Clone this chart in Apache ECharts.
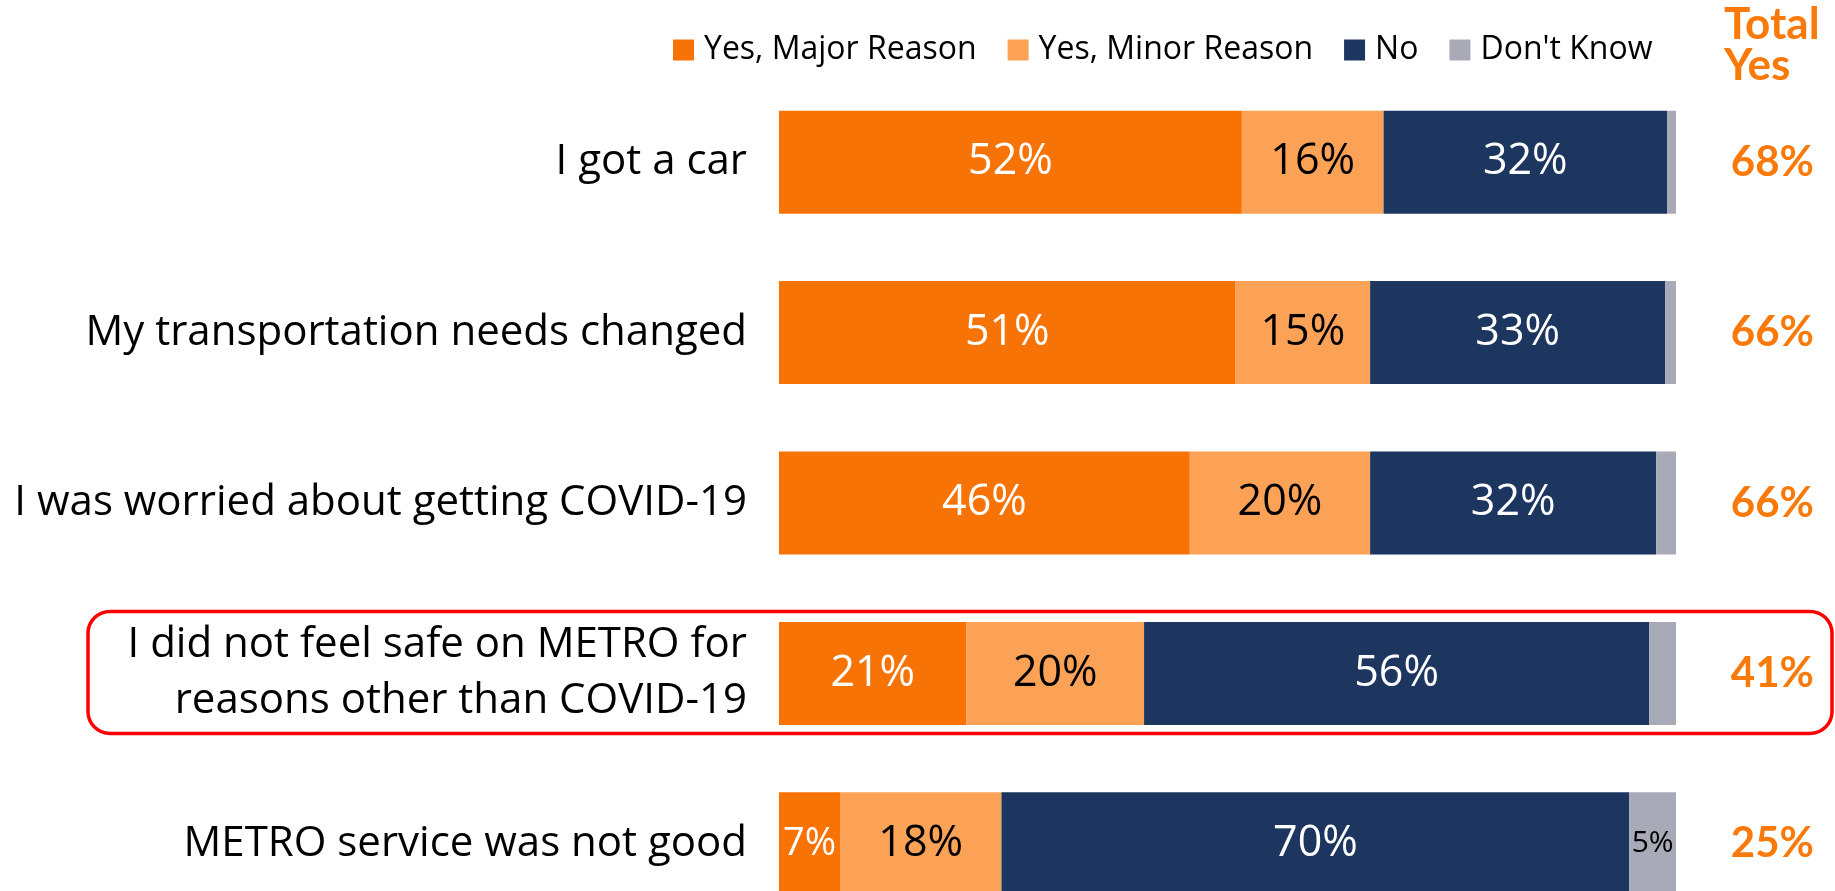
<!DOCTYPE html>
<html>
<head>
<meta charset="utf-8">
<script src="https://cdn.jsdelivr.net/npm/echarts@6/dist/echarts.min.js"></script>
<style>
  html, body { margin: 0; padding: 0; background: #fff; }
  #draw_area { width: 1835px; height: 891px; }
</style>
</head>
<body>
<div id="draw_area"></div>
<script>
"use strict";

// 行标签，自上而下
const categories = [
    'I got a car',
    'My transportation needs changed',
    'I was worried about getting COVID-19',
    'I did not feel safe on METRO for\nreasons other than COVID-19',
    'METRO service was not good'
];
const seriesNames = ['Yes, Major Reason', 'Yes, Minor Reason', 'No', "Don't Know"];

// 各段百分比（从图上量出，标签四舍五入显示）
const majorReason = [51.6, 50.9, 45.8, 20.9, 6.8];
const minorReason = [15.8, 15.0, 20.1, 19.8, 18.0];
const noReason = [31.6, 32.9, 31.9, 56.3, 70.0];
const dontKnow = [1.0, 1.2, 2.2, 3.0, 5.2];
const totalYes = [68, 66, 66, 41, 25];

// 红框圈出的行
const highlightRow = 3;

const FONT = '"Open Sans"';
const BOLD_FONT = 'Lato';
const colors = ['#F87306', '#FBA257', '#1D365F', '#A8AAB7'];
const labelColors = ['#fff', '#000', '#fff', '#000'];

//每段的数据项，小段字号缩小，不知道那一段只显示较大的值
function make_data(values, idx) {
    return values.map(function (v) {
        let size = 43;
        if (idx == 3) size = 30;
        else if (v < 10) size = 38;
        return { value: v, label: { fontSize: size } };
    });
}

const allValues = [majorReason, minorReason, noReason, dontKnow];

const option = {
    animation: false,
    color: colors,
    textStyle: { fontFamily: FONT },
    legend: {
        left: 673,
        top: 34,
        padding: 0,
        itemGap: 31,
        itemWidth: 21,
        itemHeight: 21,
        icon: 'rect',
        data: seriesNames,
        textStyle: { fontFamily: FONT, fontSize: 32, color: '#000', padding: [0, 0, 0, 5] }
    },
    grid: {
        left: 779,
        width: 897,
        top: 77,
        height: 852,
        containLabel: false,
        outerBoundsMode: 'none'
    },
    xAxis: { type: 'value', min: 0, max: 100, show: false },
    yAxis: [
        {
            type: 'category',
            data: categories,
            inverse: true,
            axisLine: { show: false },
            axisTick: { show: false },
            axisLabel: {
                margin: 32,
                fontFamily: FONT,
                fontSize: 42,
                lineHeight: 56,
                color: '#000',
                align: 'right'
            }
        },
        {
            type: 'category',
            data: totalYes.map(function (v) { return v + '%'; }),
            inverse: true,
            position: 'right',
            axisLine: { show: false },
            axisTick: { show: false },
            axisLabel: {
                margin: 138,
                align: 'right',
                fontFamily: BOLD_FONT,
                fontWeight: 'bold',
                fontSize: 42,
                color: '#F97A0A'
            }
        }
    ],
    series: seriesNames.map(function (name, i) {
        return {
            name: name,
            type: 'bar',
            stack: 'all',
            barWidth: 103,
            yAxisIndex: 0,
            data: make_data(allValues[i], i),
            label: {
                show: true,
                position: 'inside',
                color: labelColors[i],
                fontFamily: FONT,
                formatter: function (p) {
                    if (i == 3 && p.value < 4) return '';
                    return Math.round(p.value) + '%';
                }
            }
        };
    }),
    graphic: [
        {
            id: 'total_title',
            type: 'text',
            left: 1772 - 48,
            top: 3,
            style: {
                text: 'Total\nYes',
                fill: '#F97A0A',
                font: 'bold 44px ' + BOLD_FONT,
                lineHeight: 41,
                align: 'center',
                width: 96
            }
        }
    ]
};

const chart_object = echarts.init(document.getElementById('draw_area'));
chart_object.setOption(option);

//在高亮行外面画红色圆角框
const cy = chart_object.convertToPixel({ yAxisIndex: 0 }, categories[highlightRow]);
chart_object.setOption({
    graphic: [
        option.graphic[0],
        {
            id: 'highlight_box',
            type: 'rect',
            shape: { x: 88, y: cy - 62, width: 1744, height: 122, r: 22 },
            style: { fill: 'none', stroke: '#FF0000', lineWidth: 3.5 },
            z: 10
        }
    ]
});
</script>
</body>
</html>
